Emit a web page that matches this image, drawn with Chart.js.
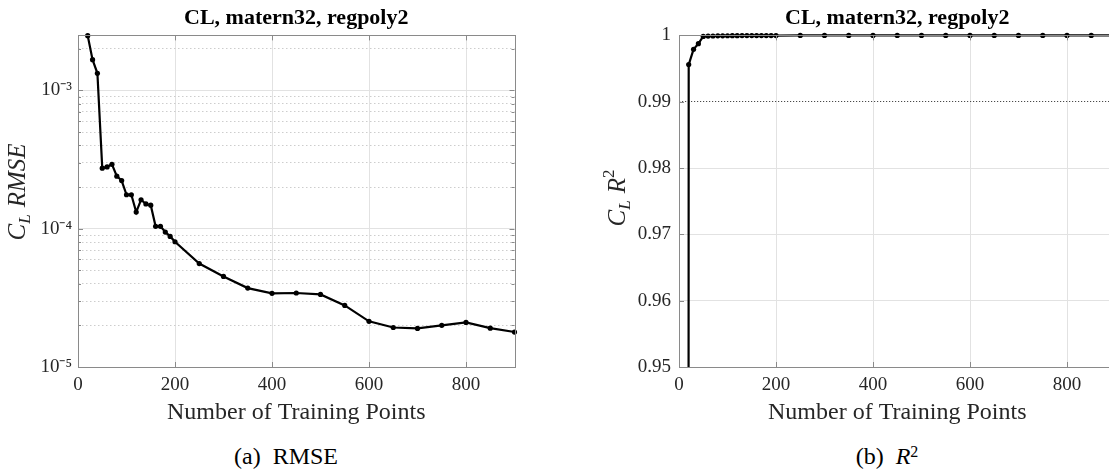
<!DOCTYPE html>
<html>
<head>
<meta charset="utf-8">
<title>CL, matern32, regpoly2</title>
<script src="https://cdn.jsdelivr.net/npm/chart.js@4.4.1/dist/chart.umd.min.js"></script>
<style>
  html, body { margin: 0; padding: 0; background: #fff; width: 1109px; height: 472px; overflow: hidden; }
  .panel { position: absolute; top: 0; }
  #rmsePanel { left: 0; }
  #r2Panel { left: 560px; }
  .caption {
    position: absolute; top: 444px; width: 300px; text-align: center;
    font-family: 'Liberation Serif', 'Times New Roman', serif; font-size: 24px; line-height: 24px; color: #000;
  }
  .caption .gap { display: inline-block; width: 12px; }
  .caption sup { font-size: 16px; line-height: 0; vertical-align: 0.45em; }
</style>
</head>
<body>
<div class="panel" id="rmsePanel"><canvas id="rmseChart" width="560" height="430"></canvas></div>
<div class="panel" id="r2Panel"><canvas id="r2Chart" width="600" height="430"></canvas></div>
<div class="caption" style="left:136px">(a)<span class="gap"></span>RMSE</div>
<div class="caption" style="left:737px">(b)<span class="gap"></span><i>R</i><sup>2</sup></div>

<script>
// Values
const rmsePoints = [20, 30, 40, 50, 60, 70, 80, 90, 100, 110, 120, 130, 140, 150, 160, 170, 180, 190, 200,
                    250, 300, 350, 400, 450, 500, 550, 600, 650, 700, 750, 800, 850, 900];
const rmseValues = [2.49e-3, 1.67e-3, 1.33e-3, 2.74e-4, 2.80e-4, 2.92e-4, 2.40e-4, 2.23e-4, 1.76e-4, 1.76e-4,
                    1.32e-4, 1.62e-4, 1.51e-4, 1.48e-4, 1.04e-4, 1.04e-4, 9.46e-5, 8.80e-5, 8.05e-5,
                    5.60e-5, 4.52e-5, 3.72e-5, 3.41e-5, 3.43e-5, 3.35e-5, 2.79e-5, 2.14e-5, 1.93e-5, 1.90e-5,
                    2.00e-5, 2.10e-5, 1.91e-5, 1.79e-5];

// first R^2 value is far below the axis (only the vertical drop is visible)
const r2Points = [10, 20, 30, 40, 50, 60, 70, 80, 90, 100, 110, 120, 130, 140, 150, 160, 170, 180, 190, 200,
                  250, 300, 350, 400, 450, 500, 550, 600, 650, 700, 750, 800, 850, 900];
const r2Values = [-0.8, 0.9956, 0.9979, 0.99875, 0.99985, 0.9999, 0.99991, 0.99993, 0.99994, 0.99995,
                  0.99996, 0.99996, 0.99997, 0.99997, 0.99997, 0.99998, 0.99998, 0.99998, 0.99998, 0.99998,
                  0.99999, 0.99999, 0.99999, 0.99999, 0.99999, 0.99999, 0.99999, 0.99999, 0.99999, 0.99999,
                  0.99999, 0.99999, 0.99999, 0.99999];

const xTickValues = [0, 200, 400, 600, 800];
const rmseDecades = [1e-5, 1e-4, 1e-3];
const rmseTickLabels = ['10⁻⁵', '10⁻⁴', '10⁻³'];
const r2TickValues = [0.95, 0.96, 0.97, 0.98, 0.99, 1];
const r2TickLabels = ['0.95', '0.96', '0.97', '0.98', '0.99', '1'];
const r2Threshold = 0.99;

const chartTitle = 'CL, matern32, regpoly2';
const xAxisTitle = 'Number of Training Points';

const serif = "'Liberation Serif', 'Times New Roman', serif";
const axisColor = '#8a8a8a';
const majorGrid = '#e2e2e2';
const minorGrid = '#cdcdcd';
const textColor = '#262626';

Chart.defaults.font.family = serif;
Chart.defaults.color = textColor;

// minor ticks of the log axis: 1..9 times each decade
const rmseGridValues = [];
rmseDecades.forEach(d => {
    for (let m = 1; m <= 9; m++) {
        if (m * d <= 2.5e-3) rmseGridValues.push(m * d);
    }
});

// Box around the plot area plus inward tick marks (Matlab style)
const axesBoxPlugin = {
    id: 'axesBox',
    afterDraw(chart) {
        const { ctx, chartArea, scales } = chart;
        const { left, right, top, bottom } = chartArea;
        ctx.save();
        ctx.strokeStyle = axisColor;
        ctx.lineWidth = 1;
        ctx.beginPath();
        scales.x.ticks.forEach(t => {
            const px = Math.round(scales.x.getPixelForValue(t.value)) + 0.5;
            ctx.moveTo(px, bottom); ctx.lineTo(px, bottom - 5);
            ctx.moveTo(px, top); ctx.lineTo(px, top + 5);
        });
        scales.y.ticks.forEach(t => {
            const py = Math.round(scales.y.getPixelForValue(t.value)) + 0.5;
            const len = t.minor ? 3 : 5;
            ctx.moveTo(left, py); ctx.lineTo(left + len, py);
            ctx.moveTo(right, py); ctx.lineTo(right - len, py);
        });
        ctx.stroke();
        ctx.strokeRect(Math.round(left) + 0.5, Math.round(top) + 0.5,
                       Math.round(right - left), Math.round(bottom - top));
        ctx.restore();
    }
};

// Y axis title with sub/superscripts, drawn rotated
function mathLabelPlugin(label) {
    return {
        id: 'mathLabel',
        afterDraw(chart) {
            const ctx = chart.ctx;
            ctx.save();
            ctx.translate(label.x, label.y);
            ctx.rotate(-Math.PI / 2);
            ctx.fillStyle = textColor;
            ctx.textBaseline = 'alphabetic';
            const fontOf = p => (p.italic ? 'italic ' : '') + p.size + 'px ' + serif;
            const widths = label.parts.map(p => {
                if (p.gap) return p.gap;
                ctx.font = fontOf(p);
                return ctx.measureText(p.text).width;
            });
            let cursor = -widths.reduce((a, b) => a + b, 0) / 2;
            label.parts.forEach((p, i) => {
                if (!p.gap) {
                    ctx.font = fontOf(p);
                    ctx.fillText(p.text, cursor, p.shift || 0);
                }
                cursor += widths[i];
            });
            ctx.restore();
        }
    };
}

function xScaleOptions() {
    return {
        type: 'linear',
        min: 0,
        max: 900,
        afterBuildTicks: scale => { scale.ticks = xTickValues.map(v => ({ value: v })); },
        afterFit: scale => { scale.height = 63; },
        grid: {
            drawTicks: false,
            color: ctx => (ctx.tick && ctx.tick.value > 0) ? majorGrid : 'transparent'
        },
        border: { display: false },
        ticks: {
            autoSkip: false,
            maxRotation: 0,
            padding: 7,
            color: textColor,
            font: { family: serif, size: 19 }
        },
        title: {
            display: true,
            text: xAxisTitle,
            color: textColor,
            font: { family: serif, size: 24 },
            padding: { top: 0, bottom: 3 }
        }
    };
}

function baseOptions(yScale, padRight) {
    return {
        responsive: false,
        animation: false,
        events: [],
        layout: { padding: { left: 0, right: padRight, top: 0, bottom: 0 } },
        scales: { x: xScaleOptions(), y: yScale },
        plugins: {
            legend: { display: false },
            tooltip: { enabled: false },
            title: {
                display: true,
                text: chartTitle,
                fullSize: false,
                color: '#000',
                font: { family: serif, size: 22, weight: 'bold' },
                padding: { top: 5, bottom: 4 }
            }
        }
    };
}

function lineDataset(xs, ys) {
    return {
        data: xs.map((n, i) => ({ x: n, y: ys[i] })),
        borderColor: '#000',
        backgroundColor: '#000',
        borderWidth: 2.2,
        pointRadius: 2.6,
        pointBorderWidth: 0,
        pointBackgroundColor: '#000',
        tension: 0,
        clip: { left: 6, top: 6, right: 6, bottom: 0 }
    };
}

// Function to draw the RMSE chart (log scale)
function drawRmseChart() {
    const ctx = document.getElementById('rmseChart').getContext('2d');
    const yScale = {
        type: 'logarithmic',
        min: 1e-5,
        max: 2.5e-3,
        afterBuildTicks: scale => {
            scale.ticks = rmseGridValues.map(v => ({ value: v, minor: !rmseDecades.includes(v) }));
        },
        afterFit: scale => { scale.width = 78; },
        grid: {
            drawTicks: false,
            color: ctx => {
                if (!ctx.tick || ctx.tick.value <= rmseDecades[0]) return 'transparent';
                return rmseDecades.includes(ctx.tick.value) ? majorGrid : minorGrid;
            }
        },
        border: {
            display: false,
            dash: ctx => (ctx.tick && !rmseDecades.includes(ctx.tick.value)) ? [1.5, 2.5] : []
        },
        ticks: {
            autoSkip: false,
            padding: 6,
            color: textColor,
            font: { family: serif, size: 19 },
            callback: value => {
                const i = rmseDecades.indexOf(value);
                return i >= 0 ? rmseTickLabels[i] : '';
            }
        }
    };
    new Chart(ctx, {
        type: 'line',
        data: { datasets: [lineDataset(rmsePoints, rmseValues)] },
        options: baseOptions(yScale, 45.5),
        plugins: [axesBoxPlugin, mathLabelPlugin({
            x: 25,
            y: 192,
            parts: [
                { text: 'C', size: 25, italic: true },
                { text: 'L', size: 17, italic: true, shift: 5 },
                { gap: 7 },
                { text: 'RMSE', size: 25, italic: true }
            ]
        })]
    });
}

// Function to draw the R^2 chart
function drawR2Chart() {
    const ctx = document.getElementById('r2Chart').getContext('2d');
    const yScale = {
        type: 'linear',
        min: 0.95,
        max: 1,
        afterBuildTicks: scale => { scale.ticks = r2TickValues.map(v => ({ value: v })); },
        afterFit: scale => { scale.width = 119; },
        grid: {
            drawTicks: false,
            color: ctx => {
                if (!ctx.tick) return 'transparent';
                const v = ctx.tick.value;
                if (v === r2Threshold) return '#4a4a4a';
                return (v > 0.95 && v < 1) ? majorGrid : 'transparent';
            }
        },
        border: {
            display: false,
            dash: ctx => (ctx.tick && ctx.tick.value === r2Threshold) ? [1.2, 1.8] : []
        },
        ticks: {
            autoSkip: false,
            padding: 8,
            color: textColor,
            font: { family: serif, size: 19 },
            callback: (value, index) => r2TickLabels[index]
        }
    };
    new Chart(ctx, {
        type: 'line',
        data: { datasets: [lineDataset(r2Points, r2Values)] },
        options: baseOptions(yScale, 44.5),
        plugins: [axesBoxPlugin, mathLabelPlugin({
            x: 65,
            y: 198,
            parts: [
                { text: 'C', size: 25, italic: true },
                { text: 'L', size: 17, italic: true, shift: 5 },
                { gap: 7 },
                { text: 'R', size: 25, italic: true },
                { text: '2', size: 17, shift: -11 }
            ]
        })]
    });
}

drawRmseChart();
drawR2Chart();
</script>
</body>
</html>
